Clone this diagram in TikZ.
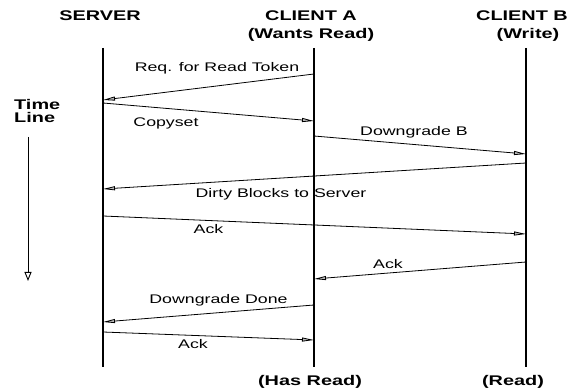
\documentclass[tikz,border=0pt]{standalone}
\usepackage{fontspec}
\setmainfont{Liberation Sans}[FakeStretch=1.42]
\usetikzlibrary{arrows.meta}
\begin{document}
\begin{tikzpicture}[x=1pt,y=-1pt,
  lifeline/.style={line width=2.8pt},
  msg/.style={line width=0.8pt,-{Triangle[length=12pt,width=4pt,fill=gray!55]}},
  lbl/.style={inner sep=0pt,text height=9pt,text depth=0pt,font=\fontsize{12.5}{14}\selectfont},
  hdr/.style={inner sep=0pt,text height=10pt,text depth=0pt,font=\bfseries\fontsize{14}{16}\selectfont}]
\useasboundingbox (0,0) rectangle (576,390);

% column headings
\node[hdr] (hS)  at (100,15.5) {SERVER};
\node[hdr] (hA)  at (311,15.5) {CLIENT A};
\node[hdr] (hA2) at (311,34)   {(Wants Read)};
\node[hdr] (hB)  at (522,15.5) {CLIENT B};
\node[hdr] (hB2) at (528,34)   {(Write)};
\node[hdr] (fA)  at (310,380)  {(Has Read)};
\node[hdr] (fB)  at (513,380)  {(Read)};

% life lines
\coordinate (S0) at (103,48);  \coordinate (S1) at (103,367);
\coordinate (A0) at (314,48);  \coordinate (A1) at (314,367);
\coordinate (B0) at (526,48);  \coordinate (B1) at (526,367);
\draw[lifeline] (S0) -- (S1);
\draw[lifeline] (A0) -- (A1);
\draw[lifeline] (B0) -- (B1);

% time axis
\node[hdr,anchor=west] (time) at (14,105)   {Time};
\node[hdr,anchor=west] (line) at (14,117.5) {Line};
\coordinate (t0) at (28,137);
\coordinate (t1) at (28,281);
\draw[line width=0.9pt,-{Triangle[open,length=9pt,width=7pt,line width=0.9pt]}] (t0) -- (t1);

% message end points
\coordinate (m1a) at (314,74);  \coordinate (m1b) at (103,100);
\coordinate (m2a) at (103,103); \coordinate (m2b) at (314,121);
\coordinate (m3a) at (314,136); \coordinate (m3b) at (526,154);
\coordinate (m4a) at (526,163); \coordinate (m4b) at (103,189);
\coordinate (m5a) at (103,216); \coordinate (m5b) at (526,234);
\coordinate (m6a) at (526,262); \coordinate (m6b) at (314,279);
\coordinate (m7a) at (314,305); \coordinate (m7b) at (103,322);
\coordinate (m8a) at (103,332); \coordinate (m8b) at (314,340);

% messages
\draw[msg] (m1a) -- (m1b);
\draw[msg] (m2a) -- (m2b);
\draw[msg] (m3a) -- (m3b);
\draw[msg] (m4a) -- (m4b);
\draw[msg] (m5a) -- (m5b);
\draw[msg] (m6a) -- (m6b);
\draw[msg] (m7a) -- (m7b);
\draw[msg] (m8a) -- (m8b);

% message labels
\node[lbl] (l1) at (217,67.5) {Req. for Read Token};
\node[lbl] (l2) at (166,122)  {Copyset};
\node[lbl] (l3) at (414,131)  {Downgrade B};
\node[lbl] (l4) at (281,193.5){Dirty Blocks to Server};
\node[lbl] (l5) at (208.5,229){Ack};
\node[lbl] (l6) at (388,264)  {Ack};
\node[lbl] (l7) at (218.5,299){Downgrade Done};
\node[lbl] (l8) at (193,344)  {Ack};
\end{tikzpicture}
\end{document}
